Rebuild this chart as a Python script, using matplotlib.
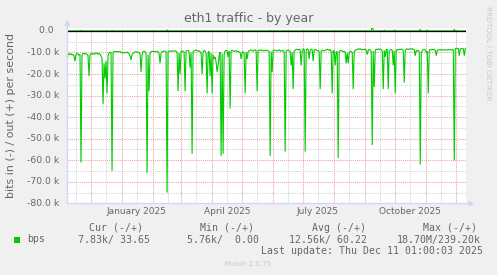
import matplotlib
matplotlib.use("Agg")
import matplotlib.pyplot as plt
import matplotlib.dates as mdates
import matplotlib.transforms as mtransforms
from matplotlib.patches import Rectangle
import numpy as np
from datetime import datetime, timedelta

# ---------------- data (thousands of bits/s) ----------------
start_time = datetime(2024, 11, 7, 8, 0)
end_time = datetime(2025, 12, 11, 1, 0)

# inbound traffic, drawn negative, one value per day
bps_in = [
    -15.0, -10.8, -10.5, -11.0, -10.6, -11.2, -10.9, -11.5, -14.0, -11.0, -10.4, -10.7, -11.3, -10.9, -61.0, -11.2, -10.6, -10.3, -10.8, -10.5,
    -10.9, -11.4, -21.0, -11.0, -10.6, -10.4, -10.9, -10.5, -10.7, -10.2, -10.5, -10.8, -10.4, -10.9, -11.6, -12.5, -34.0, -15.0, -22.0, -14.0,
    -29.0, -11.5, -10.2, -10.0, -9.9, -65.0, -10.1, -9.6, -9.5, -9.6, -9.5, -9.7, -9.6, -9.5, -10.0, -10.3, -10.1, -9.9, -10.2, -10.0,
    -9.8, -10.2, -10.6, -11.5, -13.5, -11.0, -10.4, -10.0, -9.7, -9.6, -9.8, -10.1, -9.9, -10.6, -19.0, -11.2, -9.5, -9.4, -9.6, -10.5,
    -66.0, -11.0, -28.0, -10.5, -9.6, -9.5, -9.4, -9.6, -9.5, -9.7, -9.4, -9.8, -10.6, -15.0, -10.4, -9.6, -9.5, -9.3, -9.4, -9.6,
    -75.0, -9.6, -9.4, -9.2, -9.5, -9.3, -9.1, -9.4, -9.2, -9.5, -9.8, -28.0, -10.2, -20.0, -9.4, -9.2, -9.6, -9.8, -28.0, -9.4,
    -9.1, -9.0, -9.7, -17.0, -10.0, -57.0, -9.6, -9.3, -9.0, -8.9, -9.2, -9.4, -9.1, -9.6, -10.2, -20.0, -9.8, -9.0, -9.3, -10.5,
    -29.0, -10.0, -9.4, -21.0, -10.3, -29.0, -11.0, -13.0, -12.0, -14.5, -19.0, -16.0, -11.5, -9.8, -58.0, -10.5, -57.0, -11.0, -9.2, -9.0,
    -9.3, -12.0, -9.5, -36.0, -9.4, -9.0, -9.2, -9.5, -9.3, -9.1, -9.6, -9.4, -9.8, -10.1, -13.0, -10.0, -9.6, -10.4, -29.0, -9.8,
    -13.0, -9.6, -9.2, -9.0, -8.8, -9.1, -9.4, -9.0, -8.7, -9.2, -28.0, -9.1, -8.9, -9.0, -8.8, -9.2, -9.0, -9.3, -8.9, -9.1,
    -9.0, -9.2, -9.5, -58.0, -9.6, -19.0, -9.2, -9.0, -8.9, -9.1, -9.3, -9.0, -8.8, -9.1, -9.4, -9.0, -9.2, -9.7, -56.0, -9.4,
    -9.0, -8.8, -9.2, -9.5, -16.0, -9.8, -27.0, -9.3, -8.9, -8.6, -8.5, -8.8, -8.4, -9.0, -16.0, -9.5, -8.2, -8.6, -56.0, -8.9,
    -8.3, -8.6, -13.0, -8.9, -8.4, -8.7, -14.0, -9.0, -8.5, -8.8, -9.2, -9.0, -9.5, -27.0, -9.2, -8.9, -9.0, -9.3, -9.1, -8.8,
    -8.5, -8.7, -9.0, -8.6, -9.4, -29.0, -9.1, -9.3, -16.0, -9.5, -9.8, -59.0, -9.6, -9.2, -9.0, -9.3, -9.6, -9.4, -10.0, -15.0,
    -10.2, -15.0, -9.9, -9.4, -9.6, -10.0, -27.0, -9.5, -9.0, -8.8, -8.6, -8.3, -8.5, -8.2, -8.6, -8.9, -8.4, -8.7, -8.5, -9.0,
    -11.0, -9.0, -8.6, -8.9, -9.6, -53.0, -9.4, -26.0, -8.9, -8.5, -8.7, -8.3, -8.6, -8.4, -8.8, -9.2, -27.0, -9.0, -12.0, -8.7,
    -8.5, -27.0, -9.3, -8.8, -8.5, -9.0, -16.0, -9.2, -29.0, -9.0, -8.6, -8.8, -8.5, -8.7, -8.4, -8.6, -9.0, -24.0, -8.9, -8.5,
    -8.3, -8.6, -8.4, -8.3, -8.5, -8.2, -8.6, -8.8, -11.5, -9.0, -9.4, -9.0, -9.5, -62.0, -9.8, -9.2, -8.7, -8.5, -8.9, -10.0,
    -9.5, -29.0, -9.0, -8.6, -8.8, -8.5, -8.7, -8.6, -9.0, -11.5, -9.0, -8.8, -8.7, -8.9, -8.6, -8.8, -8.7, -8.9, -8.7, -8.8,
    -8.9, -8.6, -8.8, -8.7, -8.9, -8.6, -8.7, -60.0, -8.2, -8.0, -8.3, -8.1, -11.5, -8.4, -8.1, -8.3, -8.2, -11.5, -8.1, -8.4,
]

# outbound traffic (tiny, near zero) with a few bursts: day index -> value
out_burst_days = [14, 45, 100, 203, 305, 317, 327, 353, 360, 387]
out_burst_vals = [0.3, 0.3, 0.5, 0.3, 2.5, 0.4, 0.4, 0.8, 0.4, 0.8]
out_base = 0.03

ytick_vals = [-80, -70, -60, -50, -40, -30, -20, -10, 0]
ytick_labels = ["-80.0 k", "-70.0 k", "-60.0 k", "-50.0 k", "-40.0 k",
                "-30.0 k", "-20.0 k", "-10.0 k", "0.0  "]

xlabel_dates = [datetime(2025, 1, 16), datetime(2025, 4, 16),
                datetime(2025, 7, 16), datetime(2025, 10, 16)]
xlabel_texts = ["January 2025", "April 2025", "July 2025", "October 2025"]

legend_name = "bps"
col_headers = ["Cur (-/+)", "Min (-/+)", "Avg (-/+)", "Max (-/+)"]
col_values = ["7.83k/ 33.65", "5.76k/  0.00", "12.56k/ 60.22", "18.70M/239.20k"]
last_update = "Last update: Thu Dec 11 01:00:03 2025"

title = "eth1 traffic - by year"
ylabel = "bits in (-) / out (+) per second"

# ---------------- styling ----------------
W, H = 497, 275
BG = "#F0F0F0"
FONT = "#666666"
AXIS = "#CFD6F8"
GREEN = "#00CC00"
MGRID = "#F0A0A0"
GRID = "#D4D4D4"


def fx(px):
    return px / W


def fy(py):
    return 1 - py / H


fig = plt.figure(figsize=(W / 100, H / 100), dpi=100, facecolor=BG)
L, R, T, B = 67, 466, 27.5, 203.3
ax = fig.add_axes([fx(L), fy(B), fx(R - L), (B - T) / H])
ax.set_facecolor("white")
for s in ax.spines.values():
    s.set_visible(False)

n = len(bps_in)
dates = [start_time + timedelta(days=i) for i in range(n)]
out_vals = np.full(n, out_base)
for d, v in zip(out_burst_days, out_burst_vals):
    out_vals[d] = v

ax.set_xlim(start_time, end_time)
ax.set_ylim(-80, 1.6)

# grids
ax.xaxis.set_major_locator(mdates.MonthLocator(bymonthday=1))
ax.xaxis.set_minor_locator(mdates.MonthLocator(bymonthday=16))
ax.yaxis.set_major_locator(matplotlib.ticker.MultipleLocator(10))
ax.yaxis.set_minor_locator(matplotlib.ticker.MultipleLocator(5))
ax.grid(which="minor", color=GRID, linestyle=(0, (1, 1)), linewidth=0.75)
ax.grid(which="major", color=MGRID, linestyle=(0, (1, 1)), linewidth=0.75)
ax.set_axisbelow(True)
ax.tick_params(which="both", length=0, labelbottom=False, labelleft=False)

# data
ax.plot(dates, out_vals, color=GREEN, lw=0.8, zorder=3)
ax.plot(dates, bps_in, color=GREEN, lw=0.8, zorder=3, solid_joinstyle="miter")
ax.axhline(0, color="black", lw=0.9, zorder=4)

# axis lines + arrows
ax.plot([0, 0], [0, 1.03], transform=ax.transAxes, color=AXIS, lw=0.9, clip_on=False, zorder=5)
ax.plot([0, 1.0125], [0, 0], transform=ax.transAxes, color=AXIS, lw=0.9, clip_on=False, zorder=5)
ax.plot([0], [1.03], transform=ax.transAxes, marker="^", ms=4.5, color=AXIS, clip_on=False, zorder=5, mec="none")
ax.plot([1.0125], [0], transform=ax.transAxes, marker=">", ms=4.5, color=AXIS, clip_on=False, zorder=5, mec="none")

# y tick labels
ytrans = mtransforms.offset_copy(ax.get_yaxis_transform(), fig=fig, x=-7.5, y=0, units="dots")
for v, lab in zip(ytick_vals, ytick_labels):
    ax.text(0, v, lab, transform=ytrans, ha="right", va="center", fontsize=6.7,
            color=FONT, family="DejaVu Sans")

# x tick labels
xtrans = mtransforms.offset_copy(ax.get_xaxis_transform(), fig=fig, x=0, y=-4, units="dots")
for d, lab in zip(xlabel_dates, xlabel_texts):
    ax.text(d, 0, lab, transform=xtrans, ha="center", va="top", fontsize=6.5,
            color=FONT, family="DejaVu Sans")

# title, axis label, watermark
fig.text(fx(248.2), fy(18.5), title, ha="center", va="center", fontsize=9.0, color=FONT)
fig.text(fx(11.5), fy(115), ylabel, ha="center", va="center", rotation=90, fontsize=7.9, color=FONT)
fig.text(fx(488), fy(53), "RRDTOOL / TOBI OETIKER", ha="center", va="center", rotation=270,
         fontsize=5.3, color="#C8C8C8")
fig.text(fx(248), fy(264.5), "Munin 2.0.75", ha="center", va="center", fontsize=5.0, color="#C8C8C8")

# legend
mono = "DejaVu Sans Mono"
hdr_x = [89, 200, 312, 423]
val_x = [78, 187, 289, 397]
for x, h in zip(hdr_x, col_headers):
    fig.text(fx(x), fy(227.7), h, ha="left", va="center", fontsize=7.1, family=mono, color=FONT)
for x, v in zip(val_x, col_values):
    fig.text(fx(x), fy(239.5), v, ha="left", va="center", fontsize=7.1, family=mono, color=FONT)
fig.text(fx(27), fy(239.5), legend_name, ha="left", va="center", fontsize=7.1, family=mono, color=FONT)
fig.patches.append(Rectangle((fx(14), fy(242.5)), fx(6), 6 / H, transform=fig.transFigure,
                             facecolor=GREEN, edgecolor="none"))
fig.text(fx(483), fy(251.3), last_update, ha="right", va="center", fontsize=7.1, family=mono, color=FONT)

fig.savefig("out.png", dpi=100, facecolor=BG)
